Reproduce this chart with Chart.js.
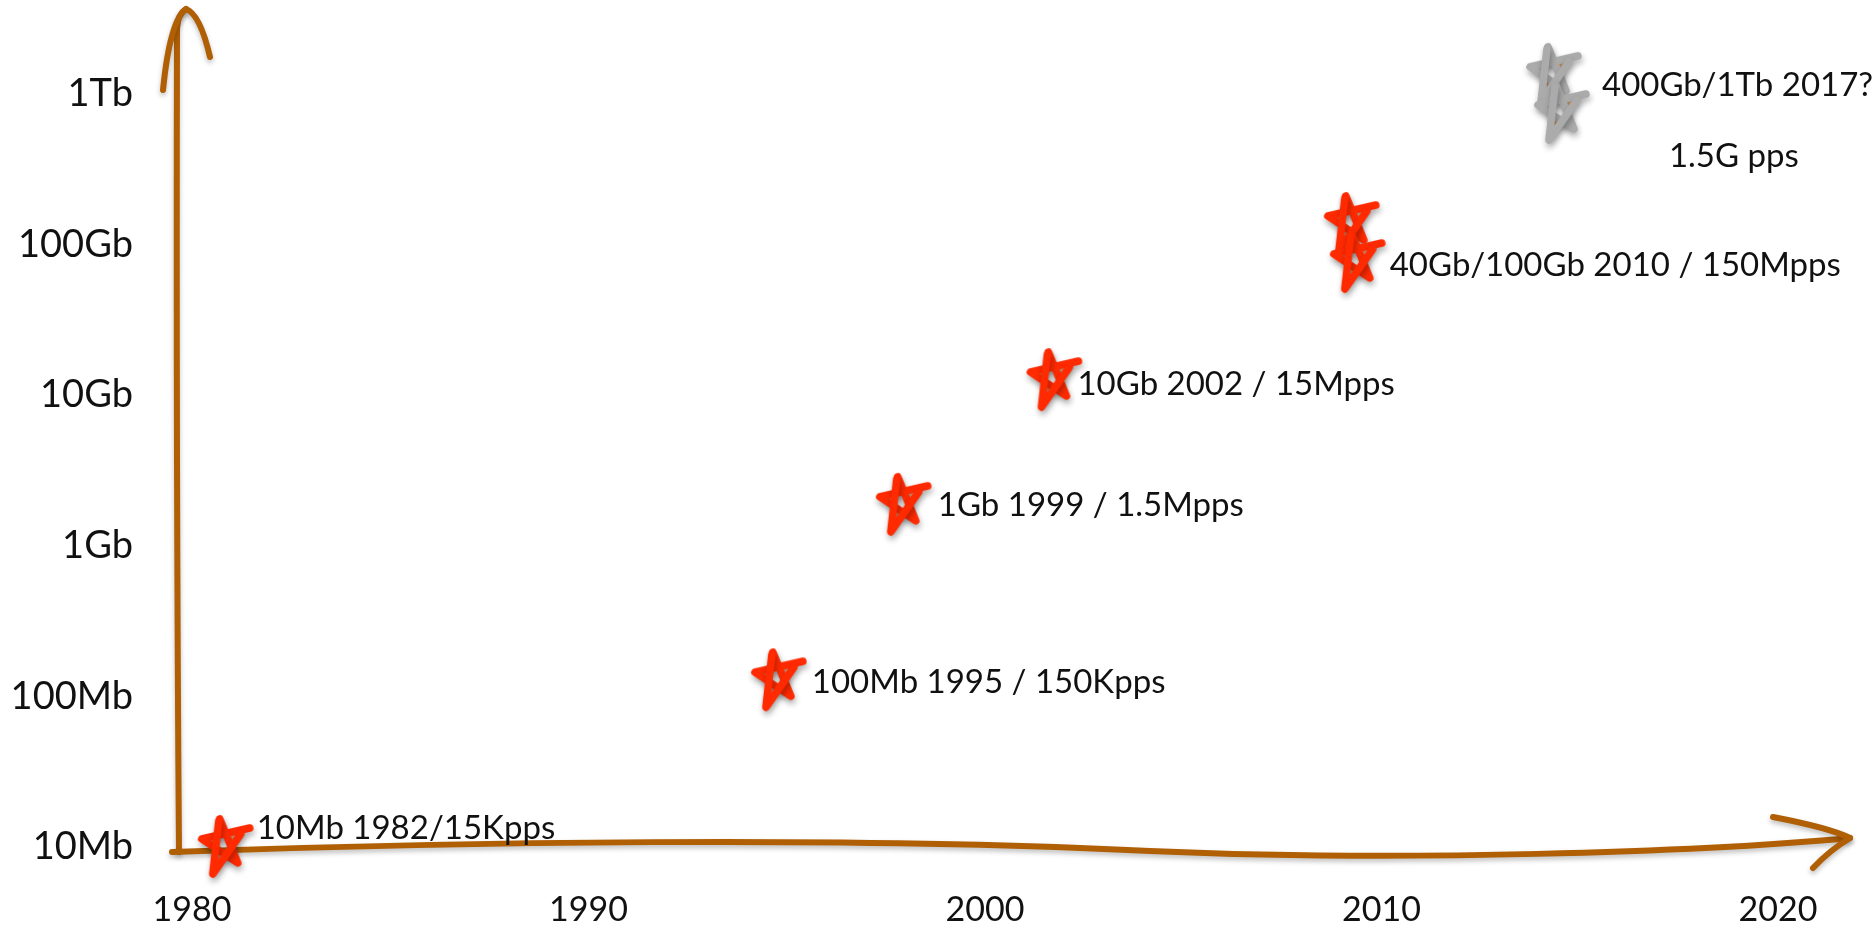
<!DOCTYPE html>
<html>
<head>
<meta charset="utf-8">
<script src="https://cdn.jsdelivr.net/npm/chart.js@4"></script>
<style>
  html, body { margin: 0; padding: 0; background: #fff; }
  canvas { display: block; }
</style>
</head>
<body>
<canvas id="chart" width="1876" height="930"></canvas>
<script>
// Ethernet generations, values
const xTicks = [1980, 1990, 2000, 2010, 2020];
const yTicks = [1e7, 1e8, 1e9, 1e10, 1e11, 1e12];
const yTickLabels = ['10Mb', '100Mb', '1Gb', '10Gb', '100Gb', '1Tb'];

const shippedYears = [1980.8, 1994.75, 1997.9, 2001.7, 2009.2, 2009.35];
const shippedBps = [1e7, 1.28e8, 1.87e9, 1.26e10, 1.37e11, 7.66e10];
const shippedNotes = ['10Mb 1982/15Kpps', '100Mb 1995 / 150Kpps', '1Gb 1999 / 1.5Mpps', '10Gb 2002 / 15Mpps', '', '40Gb/100Gb 2010 / 150Mpps'];

const futureYears = [2014.3, 2014.5];
const futureBps = [1.34e12, 7.48e11];
const futureNotes = ['400Gb/1Tb 2017?', '1.5G pps'];

const AXIS = '#b05f05';
const FONT = 'Lato';

// hand drawn star used as point style
function makeStar(stroke, fill) {
    const c = document.createElement('canvas');
    c.width = 80;
    c.height = 90;
    const g = c.getContext('2d');
    g.translate(39, 43);
    g.shadowColor = 'rgba(0,0,0,0.32)';
    g.shadowBlur = 6;
    g.shadowOffsetX = 1;
    g.shadowOffsetY = 4;
    // tips: top, lower right, upper left, upper right, bottom left
    const tip = [[-3, -26], [15, 18], [-21, -6], [18, -11], [-10, 29]];
    g.beginPath();
    g.moveTo(tip[0][0], tip[0][1]);
    for (let i = 1; i < tip.length; i++) g.lineTo(tip[i][0], tip[i][1]);
    g.closePath();
    g.fillStyle = fill;
    g.fill('evenodd');
    g.strokeStyle = stroke;
    g.lineWidth = 7.5;
    g.lineCap = 'round';
    g.lineJoin = 'round';
    g.beginPath();
    g.moveTo(tip[0][0], tip[0][1]);
    g.lineTo(tip[1][0], tip[1][1]);
    g.lineTo(tip[2][0], tip[2][1]);
    g.lineTo(27, -17);
    g.stroke();
    g.beginPath();
    g.moveTo(tip[3][0], tip[3][1]);
    g.lineTo(tip[4][0], tip[4][1]);
    g.lineTo(tip[0][0] - 1, tip[0][1] + 2);
    g.stroke();
    return c;
}

// sketchy axes with arrow heads
const sketchAxes = {
    id: 'sketchAxes',
    beforeDatasetsDraw(chart) {
        const {ctx, chartArea: a} = chart;
        const L = a.left, B = a.bottom, R = a.right, T = a.top;
        ctx.save();
        ctx.strokeStyle = AXIS;
        ctx.lineWidth = 6;
        ctx.lineCap = 'round';
        ctx.lineJoin = 'round';
        ctx.shadowColor = 'rgba(0,0,0,0.25)';
        ctx.shadowBlur = 5;
        ctx.shadowOffsetY = 3;

        // vertical axis
        ctx.beginPath();
        ctx.moveTo(L - 13, B + 5);
        ctx.quadraticCurveTo(L - 16, (B + T) / 2, L - 15, T - 66);
        ctx.quadraticCurveTo(L - 14, T - 80, L - 6, T - 85);
        ctx.stroke();
        ctx.beginPath();
        ctx.moveTo(L - 29, T - 4);
        ctx.quadraticCurveTo(L - 22, T - 74, L - 6, T - 85);
        ctx.quadraticCurveTo(L + 8, T - 80, L + 18, T - 37);
        ctx.stroke();

        // horizontal axis
        ctx.beginPath();
        ctx.moveTo(L - 20, B + 5);
        ctx.bezierCurveTo(L + 258, B - 5, L + 658, B - 11, L + 958, B + 4);
        ctx.bezierCurveTo(L + 1208, B + 15, R - 78, B + 5, R + 72, B - 9);
        ctx.stroke();
        ctx.beginPath();
        ctx.moveTo(R - 5, B - 30);
        ctx.quadraticCurveTo(R + 52, B - 19, R + 72, B - 9);
        ctx.quadraticCurveTo(R + 52, B + 3, R + 35, B + 21);
        ctx.stroke();
        ctx.restore();
    },
    afterDatasetsDraw(chart) {
        const {ctx} = chart;
        // [dataset, point, dx, dy]
        const place = [
            [0, 0, 33, -19], [0, 1, 35, 2], [0, 2, 36, 0], [0, 3, 25, 4], [0, 5, 34, 3],
            [1, 0, 50, 11], [1, 1, 109, 43]
        ];
        ctx.save();
        ctx.font = '33px ' + FONT;
        ctx.fillStyle = '#111';
        ctx.textBaseline = 'middle';
        ctx.textAlign = 'left';
        place.forEach(([d, i, dx, dy]) => {
            const text = chart.data.datasets[d].notes[i];
            const pt = chart.getDatasetMeta(d).data[i];
            if (!text || !pt) return;
            ctx.fillText(text, pt.x + dx, pt.y + dy);
        });
        ctx.restore();
    }
};

const shipped = shippedYears.map((x, i) => ({x, y: shippedBps[i]}));
const future = futureYears.map((x, i) => ({x, y: futureBps[i]}));

new Chart(document.getElementById('chart'), {
    type: 'scatter',
    data: {
        datasets: [{
            label: 'shipped',
            data: shipped,
            notes: shippedNotes,
            pointStyle: makeStar('#ff2a00', 'rgba(247,180,130,0.8)'),
            pointRadius: 30,
            clip: false
        }, {
            label: 'future',
            data: future,
            notes: futureNotes,
            pointStyle: makeStar('#ababab', 'rgba(245,170,100,0.9)'),
            pointRadius: 30,
            clip: false
        }]
    },
    options: {
        responsive: false,
        animation: false,
        layout: {
            padding: {left: 0, top: 94, right: 98, bottom: 0}
        },
        plugins: {
            legend: {display: false},
            tooltip: {enabled: false}
        },
        scales: {
            x: {
                type: 'linear',
                min: 1980,
                max: 2020,
                grid: {display: false, drawTicks: false},
                border: {display: false},
                afterBuildTicks: s => { s.ticks = xTicks.map(v => ({value: v})); },
                afterFit: s => { s.height = 83; },
                ticks: {
                    padding: 43,
                    color: '#111',
                    font: {family: FONT, size: 34},
                    callback: v => String(v)
                }
            },
            y: {
                type: 'logarithmic',
                min: 1e7,
                max: 1e12,
                grid: {display: false, drawTicks: false},
                border: {display: false},
                afterBuildTicks: s => { s.ticks = yTicks.map(v => ({value: v})); },
                afterFit: s => { s.width = 192; },
                ticks: {
                    padding: 59,
                    color: '#111',
                    font: {family: FONT, size: 38},
                    callback: v => yTickLabels[yTicks.indexOf(v)]
                }
            }
        }
    },
    plugins: [sketchAxes]
});
</script>
</body>
</html>
